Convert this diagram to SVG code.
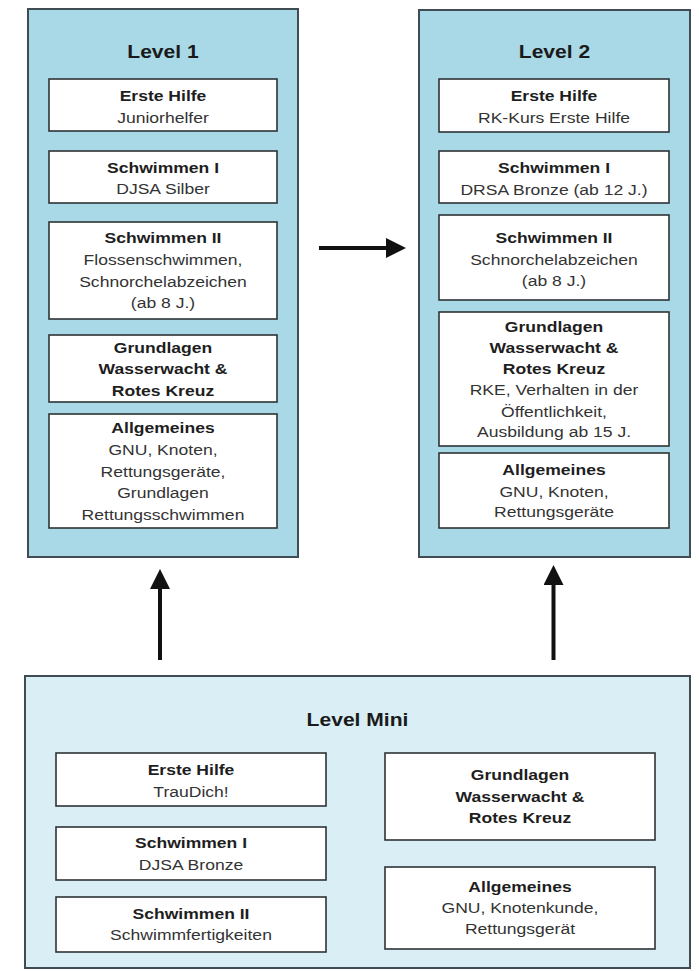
<svg xmlns="http://www.w3.org/2000/svg" width="699" height="971" viewBox="0 0 699 971">
<defs>
<style>
.panel{fill:#a9d8e6;stroke:#3f4c53;stroke-width:2}
.mini{fill:#d9eef5;stroke:#3f4c53;stroke-width:2}
.box{fill:#ffffff;stroke:#2e3336;stroke-width:1.6}
text{font-family:"Liberation Sans",Arial,Helvetica,sans-serif;text-anchor:middle}
.t{font-size:15px;fill:#333333}
.b{font-weight:bold;fill:#1e1e1e}
.title{font-size:18px;font-weight:bold;fill:#1a1a1a}
.conn{stroke:#111111;stroke-width:4;fill:none}
</style>
<marker id="ah" markerUnits="userSpaceOnUse" markerWidth="20" markerHeight="20" viewBox="0 0 20 20" refX="0" refY="10" orient="auto">
<path d="M0,0 L20,10 L0,20 z" fill="#111111"/>
</marker>
</defs>
<rect x="0" y="0" width="699" height="971" fill="#ffffff"/>

<g id="level1">
<rect class="panel" x="28" y="9" width="270" height="548"/>
<text class="title" transform="translate(163 0) scale(1.17 1)" x="0" y="58">Level 1</text>
</g>
<g id="l1-erstehilfe">
<rect class="box" x="49" y="79" width="228" height="52"/>
<text class="t" transform="translate(163 0) scale(1.17 1)"><tspan class="b" x="0" y="101">Erste Hilfe</tspan><tspan x="0" y="123">Juniorhelfer</tspan></text>
</g>
<g id="l1-schwimmen1">
<rect class="box" x="49" y="151" width="228" height="52"/>
<text class="t" transform="translate(163 0) scale(1.17 1)"><tspan class="b" x="0" y="173">Schwimmen I</tspan><tspan x="0" y="194">DJSA Silber</tspan></text>
</g>
<g id="l1-schwimmen2">
<rect class="box" x="49" y="222" width="228" height="97"/>
<text class="t" transform="translate(163 0) scale(1.17 1)"><tspan class="b" x="0" y="243">Schwimmen II</tspan><tspan x="0" y="265">Flossenschwimmen,</tspan><tspan x="0" y="287">Schnorchelabzeichen</tspan><tspan x="0" y="308">(ab 8 J.)</tspan></text>
</g>
<g id="l1-grundlagen">
<rect class="box" x="49" y="335" width="228" height="67"/>
<text class="t" transform="translate(163 0) scale(1.17 1)"><tspan class="b" x="0" y="353">Grundlagen</tspan><tspan class="b" x="0" y="374">Wasserwacht &amp;</tspan><tspan class="b" x="0" y="396">Rotes Kreuz</tspan></text>
</g>
<g id="l1-allgemeines">
<rect class="box" x="49" y="414" width="228" height="114"/>
<text class="t" transform="translate(163 0) scale(1.17 1)"><tspan class="b" x="0" y="433">Allgemeines</tspan><tspan x="0" y="455">GNU, Knoten,</tspan><tspan x="0" y="477">Rettungsgeräte,</tspan><tspan x="0" y="498">Grundlagen</tspan><tspan x="0" y="520">Rettungsschwimmen</tspan></text>
</g>

<g id="level2">
<rect class="panel" x="419" y="10" width="271" height="547"/>
<text class="title" transform="translate(554.5 0) scale(1.17 1)" x="0" y="58">Level 2</text>
</g>
<g id="l2-erstehilfe">
<rect class="box" x="439" y="79" width="230" height="53"/>
<text class="t" transform="translate(554 0) scale(1.17 1)"><tspan class="b" x="0" y="101">Erste Hilfe</tspan><tspan x="0" y="123">RK-Kurs Erste Hilfe</tspan></text>
</g>
<g id="l2-schwimmen1">
<rect class="box" x="439" y="151" width="230" height="52"/>
<text class="t" transform="translate(554 0) scale(1.17 1)"><tspan class="b" x="0" y="173">Schwimmen I</tspan><tspan x="0" y="195">DRSA Bronze (ab 12 J.)</tspan></text>
</g>
<g id="l2-schwimmen2">
<rect class="box" x="439" y="215" width="230" height="85"/>
<text class="t" transform="translate(554 0) scale(1.17 1)"><tspan class="b" x="0" y="243">Schwimmen II</tspan><tspan x="0" y="265">Schnorchelabzeichen</tspan><tspan x="0" y="286">(ab 8 J.)</tspan></text>
</g>
<g id="l2-grundlagen">
<rect class="box" x="439" y="312" width="230" height="134"/>
<text class="t" transform="translate(554 0) scale(1.17 1)"><tspan class="b" x="0" y="332">Grundlagen</tspan><tspan class="b" x="0" y="353">Wasserwacht &amp;</tspan><tspan class="b" x="0" y="374">Rotes Kreuz</tspan><tspan x="0" y="395">RKE, Verhalten in der</tspan><tspan x="0" y="417">Öffentlichkeit,</tspan><tspan x="0" y="437">Ausbildung ab 15 J.</tspan></text>
</g>
<g id="l2-allgemeines">
<rect class="box" x="439" y="453" width="230" height="75"/>
<text class="t" transform="translate(554 0) scale(1.17 1)"><tspan class="b" x="0" y="475">Allgemeines</tspan><tspan x="0" y="497">GNU, Knoten,</tspan><tspan x="0" y="517">Rettungsgeräte</tspan></text>
</g>

<g id="levelmini">
<rect class="mini" x="25" y="676" width="665" height="292"/>
<text class="title" transform="translate(357.5 0) scale(1.17 1)" x="0" y="726">Level Mini</text>
</g>
<g id="m-erstehilfe">
<rect class="box" x="56" y="753" width="270" height="53"/>
<text class="t" transform="translate(191 0) scale(1.17 1)"><tspan class="b" x="0" y="775">Erste Hilfe</tspan><tspan x="0" y="797">TrauDich!</tspan></text>
</g>
<g id="m-schwimmen1">
<rect class="box" x="56" y="827" width="270" height="53"/>
<text class="t" transform="translate(191 0) scale(1.17 1)"><tspan class="b" x="0" y="848">Schwimmen I</tspan><tspan x="0" y="870">DJSA Bronze</tspan></text>
</g>
<g id="m-schwimmen2">
<rect class="box" x="56" y="897" width="270" height="55"/>
<text class="t" transform="translate(191 0) scale(1.17 1)"><tspan class="b" x="0" y="919">Schwimmen II</tspan><tspan x="0" y="940">Schwimmfertigkeiten</tspan></text>
</g>
<g id="m-grundlagen">
<rect class="box" x="385" y="753" width="270" height="87"/>
<text class="t" transform="translate(520 0) scale(1.17 1)"><tspan class="b" x="0" y="780">Grundlagen</tspan><tspan class="b" x="0" y="802">Wasserwacht &amp;</tspan><tspan class="b" x="0" y="823">Rotes Kreuz</tspan></text>
</g>
<g id="m-allgemeines">
<rect class="box" x="385" y="867" width="270" height="82"/>
<text class="t" transform="translate(520 0) scale(1.17 1)"><tspan class="b" x="0" y="892">Allgemeines</tspan><tspan x="0" y="913">GNU, Knotenkunde,</tspan><tspan x="0" y="934">Rettungsgerät</tspan></text>
</g>

<g id="connectors">
<line class="conn" x1="319" y1="248" x2="386" y2="248" marker-end="url(#ah)"/>
<line class="conn" x1="160" y1="660" x2="160" y2="589" marker-end="url(#ah)"/>
<line class="conn" x1="553.5" y1="660" x2="553.5" y2="585" marker-end="url(#ah)"/>
</g>
</svg>
